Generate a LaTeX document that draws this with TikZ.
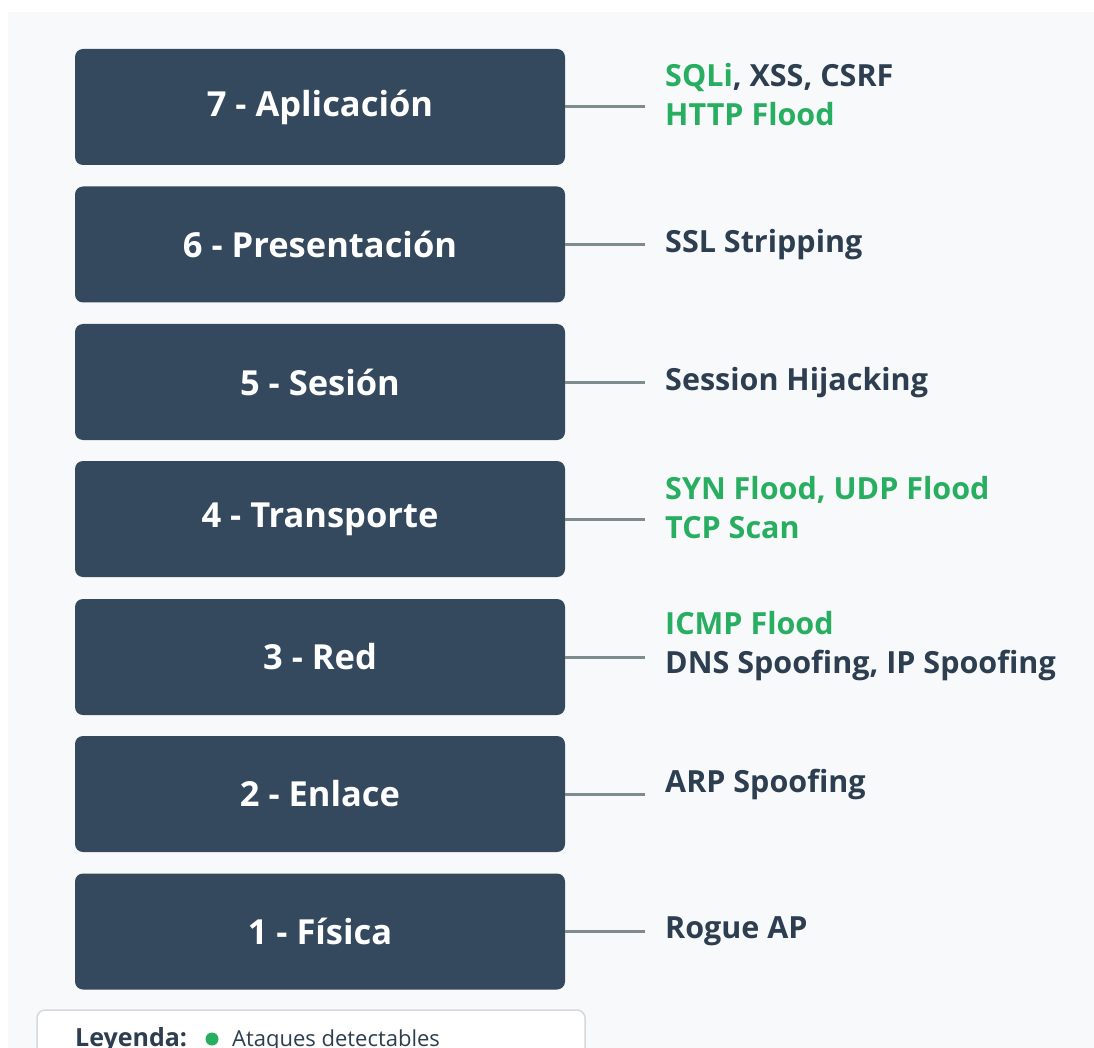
\documentclass[tikz,border=0pt]{standalone}
\usepackage{fontspec}
\setmainfont{Open Sans}
\definecolor{panelbg}{HTML}{F8F9FA}
\definecolor{layerfill}{HTML}{34495E}
\definecolor{linkgray}{HTML}{7F8C8D}
\definecolor{detgreen}{HTML}{27AE60}
\definecolor{darktext}{HTML}{2C3E50}
\definecolor{legendborder}{HTML}{D5D9DD}
\begin{document}
\begin{tikzpicture}[x=1pt,y=-1pt,
  layer/.style={fill=layerfill, rounded corners=8pt, minimum width=490pt,
    minimum height=116pt, inner sep=0pt, text=white,
    font=\fontsize{34.5}{40}\selectfont\bfseries},
  attack/.style={anchor=west, align=left, inner sep=0pt, text=darktext,
    font=\fontsize{30.5}{39}\selectfont\bfseries},
  link/.style={draw=linkgray, line width=3pt}]
  % canvas and panel
  \useasboundingbox (0,0) rectangle (1094,1048);
  \fill[white] (0,0) rectangle (1094,1048);
  \fill[panelbg] (8,12) rectangle (1094,1048);

  % OSI layers
  \foreach \n/\y/\t in {7/107/{7 - Aplicación}, 6/244.5/{6 - Presentación},
      5/382/{5 - Sesión}, 4/519/{4 - Transporte}, 3/657/{3 - Red},
      2/794/{2 - Enlace}, 1/931.5/{1 - Física}} {
    \node[layer] (L\n) at (320,\y) {\t};
    \coordinate (C\n) at (645,\y);
    \draw[link] (L\n.east) -- (C\n);
  }

  % attacks per layer
  \node[attack] (A7) at (665,95) {{\color{detgreen}SQLi}, XSS, CSRF\\{\color{detgreen}HTTP Flood}};
  \node[attack] (A6) at (665,245) {SSL Stripping};
  \node[attack] (A5) at (665,383) {Session Hijacking};
  \node[attack, text=detgreen] (A4) at (665,508) {SYN Flood, UDP Flood\\TCP Scan};
  \node[attack] (A3) at (665,646) {{\color{detgreen}ICMP Flood}\\DNS Spoofing, IP Spoofing};
  \node[attack] (A2) at (665,784) {ARP Spoofing};
  \node[attack] (A1) at (665,931) {Rogue AP};

  % legend
  \draw[legendborder, fill=white, line width=1.5pt, rounded corners=8pt]
    (37,1060) -- (37,1010) -- (585,1010) -- (585,1060);
  \node[anchor=base west, inner sep=0pt, text=darktext,
    font=\fontsize{25}{28}\selectfont\bfseries] (LegT) at (75,1046) {Leyenda:};
  \fill[detgreen] (212,1039) circle (6.5pt);
  \node[anchor=base west, inner sep=0pt, text=darktext,
    font=\fontsize{22}{26}\selectfont] (LegD) at (232,1046) {Ataques detectables};
\end{tikzpicture}
\end{document}
